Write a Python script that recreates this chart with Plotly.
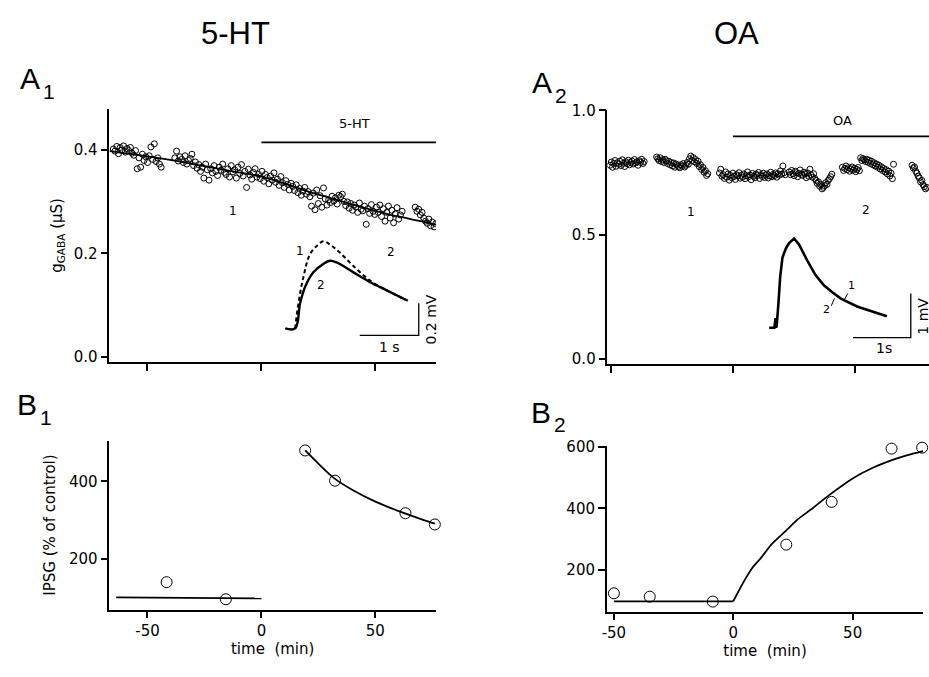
import numpy as np
import plotly.graph_objects as go

W, H = 929, 677
FONT = "Liberation Sans, Arial, sans-serif"
FONT2 = "DejaVu Sans, sans-serif"

# ---------------- data ----------------
# A1: g_GABA (uS) vs time (min), 5-HT; segments sampled every a1_dt min
a1_dt = 0.75
a1_seg_start = [-65.0, -38.0, 67.5]
a1_s1 = [0.401, 0.397, 0.406, 0.392, 0.404, 0.399, 0.407, 0.395, 0.402, 0.398,
         0.404, 0.393, 0.389, 0.398, 0.363, 0.384, 0.366, 0.391, 0.379, 0.386,
         0.375, 0.388, 0.405, 0.381, 0.411, 0.377, 0.384, 0.372, 0.366]
a1_s2 = [0.384, 0.397, 0.378, 0.386, 0.381, 0.375, 0.388, 0.372, 0.379, 0.383,
         0.391, 0.369, 0.376, 0.364, 0.371, 0.358, 0.366, 0.345, 0.372, 0.361,
         0.341, 0.363, 0.355, 0.369, 0.358, 0.350, 0.366, 0.360, 0.372, 0.356,
         0.352, 0.363, 0.347, 0.369, 0.357, 0.361, 0.345, 0.366, 0.354, 0.371,
         0.349, 0.358, 0.327, 0.362, 0.351, 0.343, 0.356, 0.363, 0.347, 0.352,
         0.344, 0.358, 0.339, 0.352, 0.346, 0.334, 0.349, 0.341, 0.355, 0.337,
         0.343, 0.331, 0.348, 0.336, 0.327, 0.340, 0.333, 0.322, 0.335, 0.329,
         0.321, 0.332, 0.317, 0.325, 0.312, 0.320, 0.327, 0.314, 0.319, 0.309,
         0.291, 0.316, 0.284, 0.322, 0.296, 0.311, 0.289, 0.326, 0.305, 0.293,
         0.303, 0.298, 0.310, 0.301, 0.307, 0.295, 0.312, 0.309, 0.314, 0.300,
         0.292, 0.299, 0.287, 0.296, 0.283, 0.293, 0.289, 0.279, 0.297, 0.285,
         0.282, 0.291, 0.256, 0.286, 0.277, 0.294, 0.281, 0.275, 0.289, 0.279,
         0.293, 0.271, 0.286, 0.262, 0.279, 0.291, 0.268, 0.283, 0.259, 0.276,
         0.288, 0.266, 0.274, 0.281]
a1_s3 = [0.289, 0.281, 0.285, 0.274, 0.279, 0.268, 0.262, 0.258, 0.266, 0.253,
         0.260, 0.251, 0.257]
a1_segs = [a1_s1, a1_s2, a1_s3]
a1_fit_t = [-66.7, -50, -40, -30, -20, -10, 0, 10, 20, 30, 40, 50, 60, 70, 76.6]
a1_fit_g = [0.397, 0.387, 0.380, 0.372, 0.364, 0.356, 0.348, 0.335, 0.320, 0.307,
            0.294, 0.282, 0.271, 0.262, 0.255]

# A1 inset: IPSPs (s, mV) before (1, dashed) and in 5-HT (2, solid)
a1_ipsp2_t = [0, 0.169, 0.253, 0.337, 0.478, 0.646, 0.758, 0.871, 1.152, 1.433, 1.713, 2.079]
a1_ipsp2_v = [0, 0, 0.157, 0.259, 0.351, 0.402, 0.422, 0.412, 0.351, 0.290, 0.239, 0.173]
a1_ipsp1_t = [0.169, 0.225, 0.309, 0.421, 0.562, 0.646, 0.758, 0.927, 1.152, 1.433, 1.713, 2.051]
a1_ipsp1_v = [0, 0.157, 0.320, 0.463, 0.524, 0.544, 0.524, 0.473, 0.391, 0.300, 0.239, 0.177]

# A2: g_GABA (uS) vs time (min), OA; segments sampled every a2_dt min
a2_dt = 0.5
a2_seg_start = [-50.4, -31.3, -5.5, 23.1, 44.9, 73.5]
a2_s1 = [0.779, 0.792, 0.771, 0.786, 0.798, 0.775, 0.789, 0.783, 0.795, 0.778,
         0.801, 0.787, 0.774, 0.793, 0.785, 0.799, 0.781, 0.790, 0.796, 0.784,
         0.802, 0.788, 0.793, 0.779, 0.797, 0.790, 0.803, 0.786, 0.794]
a2_s2 = [0.812, 0.805, 0.798, 0.809, 0.794, 0.801, 0.790, 0.803, 0.797,
         0.786, 0.795, 0.781, 0.790, 0.776, 0.788, 0.771, 0.784, 0.779, 0.774,
         0.769, 0.781, 0.775, 0.786, 0.772, 0.779, 0.790, 0.783,
         0.805, 0.816, 0.798, 0.810, 0.793, 0.802,
         0.786, 0.795, 0.774, 0.781, 0.762, 0.770, 0.751, 0.757, 0.738, 0.745]
a2_s3 = [0.748, 0.763, 0.735, 0.741, 0.726, 0.752, 0.731, 0.744, 0.719, 0.738,
         0.729, 0.747, 0.734, 0.722, 0.741, 0.736, 0.749, 0.727, 0.739, 0.731,
         0.744, 0.725, 0.737, 0.752, 0.733, 0.740, 0.721, 0.746, 0.735, 0.729,
         0.743, 0.738, 0.750, 0.726, 0.741, 0.734, 0.747, 0.730, 0.739, 0.744,
         0.728, 0.736, 0.751, 0.733, 0.742, 0.737, 0.748, 0.731, 0.745, 0.739,
         0.756, 0.743, 0.776, 0.749, 0.741]
a2_s4 = [0.752, 0.741, 0.758, 0.745, 0.737, 0.755, 0.749, 0.733, 0.746, 0.760,
         0.742, 0.738, 0.751, 0.744, 0.729, 0.748, 0.735, 0.763, 0.740, 0.731,
         0.745, 0.726,
         0.718, 0.706, 0.712, 0.695, 0.701, 0.684, 0.690, 0.697, 0.709, 0.702,
         0.718, 0.725, 0.733, 0.743]
a2_s5 = [0.771, 0.758, 0.766, 0.776, 0.761, 0.769, 0.755, 0.764, 0.772, 0.759,
         0.767, 0.753, 0.762, 0.770, 0.757,
         0.809, 0.798, 0.806, 0.801, 0.794, 0.803, 0.791, 0.799, 0.786, 0.795,
         0.781, 0.789, 0.776, 0.784, 0.771, 0.779, 0.764, 0.773, 0.758, 0.766,
         0.752, 0.761, 0.744, 0.755, 0.736, 0.747, 0.725, 0.783]
a2_s6 = [0.779, 0.768, 0.772, 0.755, 0.747, 0.735, 0.728, 0.712, 0.718, 0.701,
         0.693, 0.684, 0.690]
a2_segs = [a2_s1, a2_s2, a2_s3, a2_s4, a2_s5, a2_s6]

# A2 inset: IPSPs (s, mV), 1 and 2 superimposed
a2_ipsp_t = [0, 0.09, 0.11, 0.12, 0.13, 0.16, 0.19, 0.23, 0.29, 0.345, 0.431, 0.517, 0.661,
             0.80, 0.948, 1.10, 1.236, 1.523, 1.80, 2.04]
a2_ipsp_v = [0, 0, 0.22, 0.0, 0.05, 0.55, 1.148, 1.593, 1.80, 1.92, 2.022, 1.889, 1.519,
             1.20, 0.963, 0.80, 0.667, 0.481, 0.36, 0.259]

# B1: IPSG (% of control), 5-HT
b1_t = [-41.6, -15.6, 19.2, 32.3, 63.2, 76.1]
b1_v = [140, 96, 480, 402, 318, 289]
b1_base_t = [-63.7, 0]
b1_base_v = [101, 98]
b1_fit_t = [19.2, 25, 32, 40, 50, 60, 70, 76.1]
b1_fit_v = [480, 446, 408, 378, 348, 324, 303, 291]

# B2: IPSG (% of control), OA; fit = flat baseline then rising curve
b2_t = [-50, -35, -8.6, 22.2, 41.2, 66.3, 79.1]
b2_v = [124, 113, 97, 282, 421, 594, 597]
b2_base_t = [-50, 0]
b2_base_v = [98, 98]
b2_fit_t = [0, 2.5, 5, 8, 11.7, 16, 22, 27, 32.5, 40, 50, 58, 67, 73, 79.5]
b2_fit_v = [98, 135, 170, 207, 240, 283, 327, 364, 396, 442, 497, 530, 558, 573, 586]


def a_times(starts, segs, dt):
    t, v = [], []
    for t0, vals in zip(starts, segs):
        t += [t0 + dt * i for i in range(len(vals))]
        v += vals
    return t, v


def px(x):
    return x / W


def py(y):
    return 1 - y / H


fig = go.Figure()
k = dict(showlegend=False, hoverinfo="skip")
pts = dict(symbol="circle-open", color="black", size=6, line=dict(width=1, color="black"))

# A1
t, v = a_times(a1_seg_start, a1_segs, a1_dt)
fig.add_trace(go.Scatter(x=t, y=v, mode="markers", marker=pts, xaxis="x", yaxis="y", **k))
fig.add_trace(go.Scatter(x=a1_fit_t, y=a1_fit_g, mode="lines", line=dict(color="black", width=1.8, shape="spline"),
                         xaxis="x", yaxis="y", **k))
fig.add_trace(go.Scatter(x=[0, 76.6], y=[0.414, 0.414], mode="lines", line=dict(color="black", width=1.8),
                         xaxis="x", yaxis="y", **k))
# A1 inset
fig.add_trace(go.Scatter(x=a1_ipsp1_t, y=a1_ipsp1_v, mode="lines",
                         line=dict(color="black", width=2, dash="4px,3px", shape="spline"),
                         xaxis="x5", yaxis="y5", **k))
fig.add_trace(go.Scatter(x=a1_ipsp2_t, y=a1_ipsp2_v, mode="lines",
                         line=dict(color="black", width=2.4, shape="spline"), xaxis="x5", yaxis="y5", **k))
fig.add_trace(go.Scatter(x=[1.264, 2.264, 2.264], y=[-0.043, -0.043, 0.157], mode="lines",
                         line=dict(color="black", width=1.3), xaxis="x5", yaxis="y5", **k))

# A2
t, v = a_times(a2_seg_start, a2_segs, a2_dt)
fig.add_trace(go.Scatter(x=t, y=v, mode="markers", marker=pts, xaxis="x2", yaxis="y2", **k))
fig.add_trace(go.Scatter(x=[0, 80.5], y=[0.895, 0.895], mode="lines", line=dict(color="black", width=1.8),
                         xaxis="x2", yaxis="y2", **k))
# A2 inset
fig.add_trace(go.Scatter(x=a2_ipsp_t, y=a2_ipsp_v, mode="lines", line=dict(color="black", width=2.6),
                         xaxis="x6", yaxis="y6", **k))
fig.add_trace(go.Scatter(x=[1.454, 2.454, 2.454], y=[-0.222, -0.222, 0.778], mode="lines",
                         line=dict(color="black", width=1.3), xaxis="x6", yaxis="y6", **k))
fig.add_trace(go.Scatter(x=[1.293, 1.362], y=[0.615, 0.778], mode="lines", line=dict(color="black", width=1),
                         xaxis="x6", yaxis="y6", **k))
fig.add_trace(go.Scatter(x=[1.075, 1.132], y=[0.496, 0.667], mode="lines", line=dict(color="black", width=1),
                         xaxis="x6", yaxis="y6", **k))

# B1
bpts = dict(symbol="circle-open", color="black", size=11, line=dict(width=1, color="black"))
fig.add_trace(go.Scatter(x=b1_base_t, y=b1_base_v, mode="lines", line=dict(color="black", width=1.8),
                         xaxis="x3", yaxis="y3", **k))
fig.add_trace(go.Scatter(x=b1_fit_t, y=b1_fit_v, mode="lines", line=dict(color="black", width=1.8, shape="spline"),
                         xaxis="x3", yaxis="y3", **k))
fig.add_trace(go.Scatter(x=b1_t, y=b1_v, mode="markers", marker=bpts, cliponaxis=False,
                         xaxis="x3", yaxis="y3", **k))

# B2
fig.add_trace(go.Scatter(x=b2_base_t, y=b2_base_v, mode="lines", line=dict(color="black", width=1.8),
                         xaxis="x4", yaxis="y4", **k))
fig.add_trace(go.Scatter(x=b2_fit_t, y=b2_fit_v, mode="lines",
                         line=dict(color="black", width=1.8, shape="spline", smoothing=0.6),
                         xaxis="x4", yaxis="y4", **k))
fig.add_trace(go.Scatter(x=b2_t, y=b2_v, mode="markers", marker=bpts, cliponaxis=False,
                         xaxis="x4", yaxis="y4", **k))

tickfont = dict(family=FONT2, size=15, color="black")
titlefont = dict(family=FONT2, size=15, color="black")
ax = dict(showline=True, linecolor="black", linewidth=1.5, ticks="outside", ticklen=7, tickwidth=1.5,
          tickcolor="black", showgrid=False, zeroline=False, tickfont=tickfont, fixedrange=True)
hidden = dict(visible=False, showgrid=False, zeroline=False, fixedrange=True)
xt = dict(tickmode="array", tickvals=[-50, 0, 50], ticktext=["-50", "0", "50"])

fig.update_layout(
    width=W, height=H, margin=dict(l=0, r=0, t=0, b=0), autosize=False,
    paper_bgcolor="white", plot_bgcolor="rgba(0,0,0,0)",
    font=dict(family=FONT, color="black"),
    xaxis=dict(ax, **xt, showticklabels=False, domain=[px(105), px(433.3)], range=[-66.7, 76.6], anchor="y"),
    yaxis=dict(ax, domain=[py(360), py(101.7)], range=[-0.0095, 0.4786], anchor="x",
               tickvals=[0, 0.2, 0.4], ticktext=["0.0", "0.2", "0.4"],
               title=dict(text="g<sub>GABA</sub> (µS)", font=titlefont, standoff=8)),
    xaxis2=dict(ax, **xt, showticklabels=False, domain=[px(605.7), px(929)], range=[-51.47, 80.45], anchor="y2"),
    yaxis2=dict(ax, domain=[py(361.7), py(103.3)], range=[-0.0197, 1.0], anchor="x2",
                tickvals=[0, 0.5, 1.0], ticktext=["0.0", "0.5", "1.0"]),
    xaxis3=dict(ax, **xt, domain=[px(105), px(433.3)], range=[-66.7, 76.6], anchor="y3",
                title=dict(text="time  (min)", font=titlefont, standoff=4)),
    yaxis3=dict(ax, domain=[py(612.3), py(440)], range=[69.4, 505.6], anchor="x3",
                tickvals=[200, 400], ticktext=["200", "400"],
                title=dict(text="IPSG (% of control)", font=titlefont, standoff=10)),
    xaxis4=dict(ax, **xt, domain=[px(605), px(923.3)], range=[-53.0, 79.6], anchor="y4",
                title=dict(text="time  (min)", font=titlefont, standoff=4)),
    yaxis4=dict(ax, domain=[py(614.3), py(445.7)], range=[64.8, 602], anchor="x4",
                tickvals=[200, 400, 600], ticktext=["200", "400", "600"]),
    xaxis5=dict(hidden, domain=[px(270), px(440)], range=[-0.197, 2.669], anchor="y5"),
    yaxis5=dict(hidden, domain=[py(350), py(230)], range=[-0.1486, 0.5853], anchor="x5"),
    xaxis6=dict(hidden, domain=[px(760), px(929)], range=[-0.1437, 2.770], anchor="y6"),
    yaxis6=dict(hidden, domain=[py(360), py(230)], range=[-0.778, 2.111], anchor="x6"),
)

ann = []


def note(text, x, y, xref, yref, size=13, angle=0, xanchor="center", yanchor="middle", family=FONT2):
    ann.append(dict(text=text, x=x, y=y, xref=xref, yref=yref, showarrow=False, textangle=angle,
                    xanchor=xanchor, yanchor=yanchor, font=dict(family=family, size=size, color="black")))


# column titles and panel letters
note("5-HT", px(232), py(25), "paper", "paper", size=31, family=FONT)
note("OA", px(735), py(25), "paper", "paper", size=31, family=FONT)
for letter, digit, lx, ly in [("A", "1", 13, 71), ("A", "2", 528, 75), ("B", "1", 10, 403), ("B", "2", 527, 411)]:
    note(letter, px(lx), py(ly), "paper", "paper", size=30, xanchor="left", family=FONT)
    note(digit, px(lx + 23), py(ly + 13), "paper", "paper", size=21, xanchor="left", family=FONT)

# A1 labels
note("5-HT", 41, 0.45, "x", "y", size=13)
note("1", -12.6, 0.282, "x", "y", size=12)
note("2", 56.7, 0.203, "x", "y", size=12)
note("1", 0.253, 0.483, "x5", "y5", size=12)
note("2", 0.607, 0.273, "x5", "y5", size=12)
note("1 s", 1.77, -0.118, "x5", "y5", size=14)
note("0.2 mV", 2.47, 0.055, "x5", "y5", size=14, angle=-90)

# A2 labels
note("OA", 45, 0.96, "x2", "y2", size=13)
note("1", -17, 0.592, "x2", "y2", size=12)
note("2", 54.6, 0.60, "x2", "y2", size=12)
note("1", 1.42, 0.963, "x6", "y6", size=11)
note("2", 0.994, 0.422, "x6", "y6", size=11)
note("1s", 1.983, -0.467, "x6", "y6", size=14)
note("1 mV", 2.672, 0.259, "x6", "y6", size=14, angle=-90)

fig.update_layout(annotations=ann)
fig.write_html("out.html", config={"displayModeBar": False},
               post_script="document.body.style.margin='0';")
